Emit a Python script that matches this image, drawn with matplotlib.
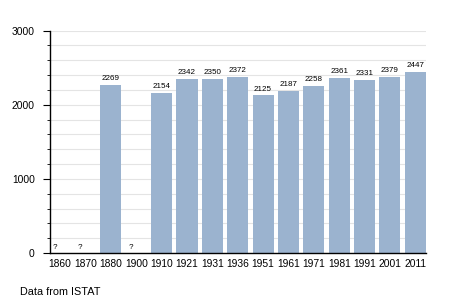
import numpy as np
import matplotlib
matplotlib.use("Agg")
import matplotlib.pyplot as plt
from matplotlib.ticker import MultipleLocator

years = ["1860", "1870", "1880", "1900", "1910", "1921", "1931", "1936",
         "1951", "1961", "1971", "1981", "1991", "2001", "2011"]
population = [None, None, 2269, None, 2154, 2342, 2350, 2372,
              2125, 2187, 2258, 2361, 2331, 2379, 2447]

BAR_COLOR = "#9bb3cf"

plt.rcParams["font.family"] = ["Liberation Sans", "DejaVu Sans"]

fig = plt.figure(figsize=(4.55, 3.03), dpi=100)
ax = fig.add_axes([0.110, 0.165, 0.826, 0.734])

x = np.arange(len(years))
heights = [v if v is not None else 0 for v in population]
ax.bar(x, heights, width=0.83, color=BAR_COLOR, zorder=2)

for xi, v in zip(x, population):
    if v is None:
        ax.text(xi - 0.3, 30, "?", fontsize=5.8, ha="left", va="bottom")
    else:
        ax.text(xi, v + 40, str(v), fontsize=5.8, ha="center", va="bottom")

ax.set_xlim(-0.4, 14.42)
ax.set_ylim(0, 3000)
ax.set_xticks(x)
ax.set_xticklabels(years, fontsize=7.4)
ax.tick_params(axis="x", length=0, pad=4)

ax.yaxis.set_major_locator(MultipleLocator(1000))
ax.yaxis.set_minor_locator(MultipleLocator(200))
ax.tick_params(axis="y", which="major", length=5, labelsize=7.4, pad=6)
ax.tick_params(axis="y", which="minor", length=2.5)
ax.grid(axis="y", which="both", color="#e4e4e4", linewidth=0.8, zorder=0)

for side in ("top", "right"):
    ax.spines[side].set_visible(False)
ax.spines["left"].set_linewidth(1)
ax.spines["bottom"].set_linewidth(1)

fig.text(20 / 455, 1 - 292 / 303, "Data from ISTAT", fontsize=7.8,
         ha="left", va="center")

fig.savefig("out.png", dpi=100)
